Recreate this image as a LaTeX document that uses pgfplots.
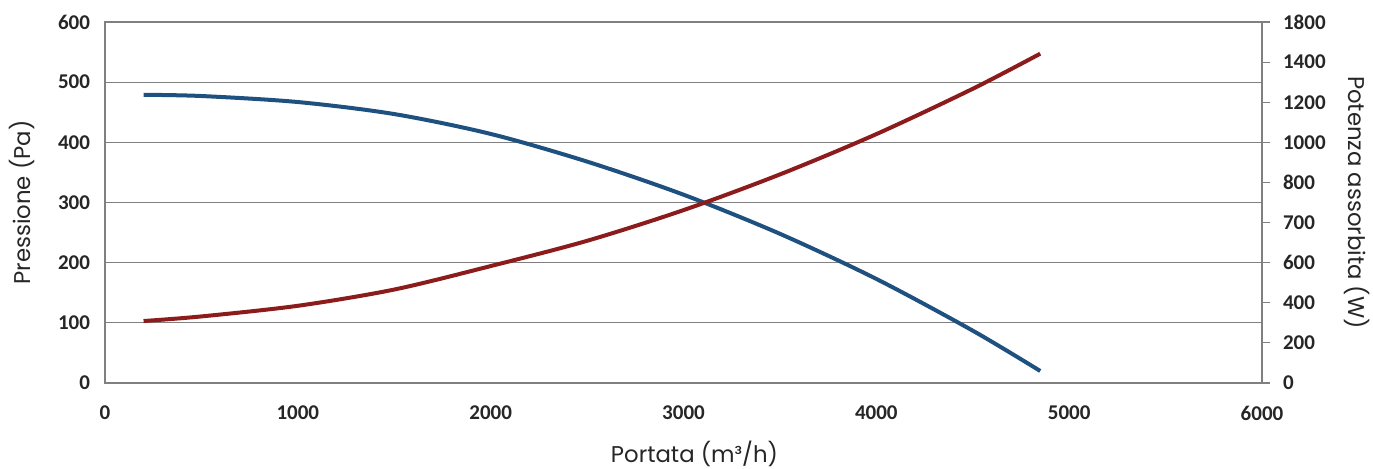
\documentclass[border=0pt]{standalone}
\usepackage{pgfplots}
\pgfplotsset{compat=1.18}
\usepackage{fontspec}
\setmainfont{Poppins}
\newfontfamily\tickfont{Carlito}
\newcommand\labfont{\fontsize{11.4}{13}\selectfont}
\definecolor{pblue}{RGB}{30,80,128}
\definecolor{pred}{RGB}{140,28,28}
\definecolor{gridgray}{RGB}{128,128,128}
\begin{document}
\begin{tikzpicture}
\path[use as bounding box] (-52.5pt,-42.5pt) rectangle (634pt,191.5pt);
\begin{axis}[
  scale only axis, width=578.5pt, height=180.5pt,
  xmin=0, xmax=6000, ymin=0, ymax=600,
  xtick={0,1000,...,6000}, ytick={0,100,...,600},
  ymajorgrids, grid style={gridgray, line width=0.6pt},
  axis line style={gridgray, line width=0.6pt},
  tick style={draw=none}, major tick length=0pt,
  /pgf/number format/1000 sep={},
  /pgf/number format/assume math mode=true,
  tick label style={font=\tickfont\bfseries\fontsize{10.5}{12}\selectfont, text=black!85},
  xticklabel style={yshift=-8pt},
  yticklabel style={xshift=-4pt},
  xlabel={\labfont Portata (m³/h)}, ylabel={\labfont Pressione (Pa)},
  every axis x label/.style={at={(axis description cs:0.5095,-0.195)}, anchor=center, text=black!85},
  every axis y label/.style={at={(axis description cs:-0.0717,0.5)}, anchor=center, rotate=90, text=black!85},
]
\addplot[pblue, line width=2pt, smooth] coordinates {
(200,479) (500,477) (1000,467) (1500,447) (2000,414) (2500,368) (3000,313)
(3500,248) (4000,173) (4500,87) (4850,20)
};
\end{axis}
\begin{axis}[
  scale only axis, width=578.5pt, height=180.5pt,
  xmin=0, xmax=6000, ymin=0, ymax=1800,
  axis x line=none, axis y line*=right,
  ytick={0,200,...,1800},
  yticklabels={0,200,400,600,700,800,1000,1200,1400,1800},
  axis line style={gridgray, line width=0.6pt},
  tick style={gridgray, line width=0.6pt}, major tick length=4pt,
  tick align=outside,
  /pgf/number format/assume math mode=true,
  tick label style={font=\tickfont\bfseries\fontsize{10.5}{12}\selectfont, text=black!85},
  yticklabel style={xshift=3pt},
  ylabel={\labfont Potenza assorbita (W)},
  every axis y label/.style={at={(axis description cs:1.0821,0.5)}, anchor=center, rotate=-90, text=black!85},
]
\addplot[pred, line width=2pt, smooth] coordinates {
(200,309) (500,332) (1000,385) (1500,466) (2000,583) (2500,709) (3000,862)
(3500,1040) (4000,1241) (4500,1467) (4850,1642)
};
\end{axis}
\end{tikzpicture}
\end{document}
